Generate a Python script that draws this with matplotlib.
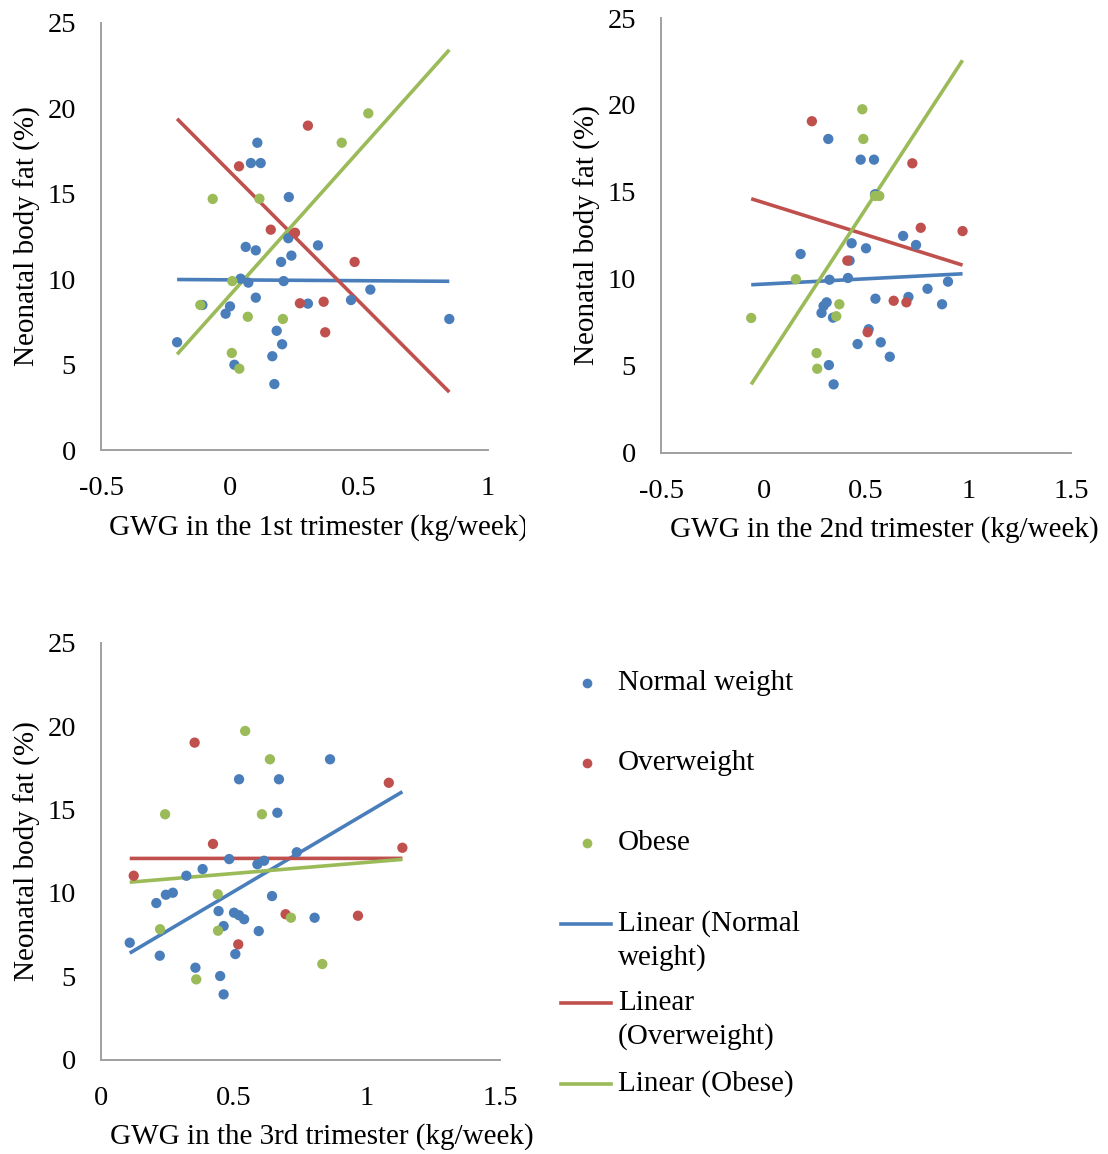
import numpy as np
import matplotlib
matplotlib.use("Agg")
import matplotlib.pyplot as plt
from matplotlib.lines import Line2D
from matplotlib.transforms import Bbox, TransformedBbox

plt.rcParams["font.family"] = ["Liberation Serif", "DejaVu Serif"]
plt.rcParams["font.size"] = 21

C_NORM = "#4a7ebb"
C_OVER = "#c0504d"
C_OBES = "#9bbb59"
SPINE = "#a0a0a0"

# ---- 1st trimester ----
t1_norm_x = [0.106, 0.081, 0.119, 0.228, 0.226, 0.061, 0.100, 0.341, 0.238, 0.198,
             0.041, 0.071, 0.208, 0.544, 0.100, -0.107, 0.000, -0.017, 0.302, 0.469,
             0.850, -0.205, 0.181, 0.202, 0.164, 0.017, 0.172]
t1_norm_y = [17.99, 16.80, 16.80, 14.81, 12.40, 11.89, 11.69, 11.98, 11.38, 11.01,
             10.03, 9.80, 9.89, 9.39, 8.92, 8.49, 8.41, 7.98, 8.57, 8.78,
             7.67, 6.31, 6.98, 6.19, 5.49, 4.99, 3.86]
t1_over_x = [0.302, 0.035, 0.158, 0.252, 0.483, 0.271, 0.363, 0.369]
t1_over_y = [18.99, 16.61, 12.90, 12.72, 11.01, 8.59, 8.68, 6.89]
t1_obes_x = [0.536, 0.433, -0.067, 0.114, 0.009, -0.115, 0.069, 0.205, 0.007, 0.036]
t1_obes_y = [19.71, 17.99, 14.70, 14.71, 9.89, 8.49, 7.80, 7.67, 5.68, 4.76]

# ---- 2nd trimester ----
t2_norm_x = [0.316, 0.474, 0.539, 0.544, 0.681, 0.744, 0.430, 0.500, 0.181, 0.420,
             0.322, 0.412, 0.900, 0.800, 0.546, 0.707, 0.871, 0.308, 0.293, 0.283,
             0.339, 0.513, 0.459, 0.572, 0.616, 0.319, 0.342]
t2_norm_y = [18.04, 16.85, 16.85, 14.86, 12.46, 11.94, 12.04, 11.75, 11.42, 11.04,
             9.94, 10.04, 9.83, 9.42, 8.85, 8.95, 8.53, 8.64, 8.43, 8.03,
             7.76, 7.09, 6.24, 6.34, 5.51, 5.03, 3.92]
t2_over_x = [0.236, 0.726, 0.767, 0.971, 0.409, 0.635, 0.697, 0.508]
t2_over_y = [19.06, 16.64, 12.93, 12.74, 11.04, 8.73, 8.64, 6.92]
t2_obes_x = [0.482, 0.487, 0.544, 0.565, 0.158, 0.370, 0.355, -0.060, 0.259, 0.262]
t2_obes_y = [19.75, 18.04, 14.76, 14.76, 9.97, 8.53, 7.84, 7.74, 5.72, 4.82]

# ---- 3rd trimester ----
t3_norm_x = [0.861, 0.519, 0.669, 0.663, 0.736, 0.482, 0.588, 0.613, 0.382, 0.321,
             0.244, 0.270, 0.208, 0.643, 0.442, 0.500, 0.519, 0.538, 0.803, 0.461,
             0.593, 0.108, 0.221, 0.505, 0.355, 0.448, 0.461]
t3_norm_y = [18.02, 16.82, 16.82, 14.81, 12.44, 12.03, 11.72, 11.93, 11.43, 11.03,
             9.89, 10.01, 9.39, 9.81, 8.91, 8.81, 8.66, 8.42, 8.51, 8.01,
             7.71, 7.01, 6.23, 6.33, 5.51, 5.01, 3.91]
t3_over_x = [0.352, 1.082, 0.421, 1.133, 0.123, 0.694, 0.966, 0.516]
t3_over_y = [19.02, 16.61, 12.94, 12.71, 11.03, 8.72, 8.63, 6.91]
t3_obes_x = [0.542, 0.635, 0.241, 0.605, 0.439, 0.714, 0.222, 0.440, 0.832, 0.358]
t3_obes_y = [19.72, 18.02, 14.72, 14.72, 9.92, 8.51, 7.82, 7.73, 5.73, 4.81]

groups = ["Normal weight", "Overweight", "Obese"]
colors = [C_NORM, C_OVER, C_OBES]
y_ticks = [0, 5, 10, 15, 20, 25]

W, H = 1108, 1154
fig = plt.figure(figsize=(W / 100, H / 100), dpi=100)


def px_ax(l, t, r, b):
    return [l / W, 1 - b / H, (r - l) / W, (b - t) / H]


panels = [
    dict(rect=px_ax(101, 23, 488, 450), xlim=(-0.5, 1.0), xt=[-0.5, 0, 0.5, 1],
         xl="GWG in the 1st trimester (kg/week)", xlpos=0.562,
         data=[(t1_norm_x, t1_norm_y), (t1_over_x, t1_over_y), (t1_obes_x, t1_obes_y)]),
    dict(rect=px_ax(661, 18, 1071, 452.5), xlim=(-0.5, 1.5), xt=[-0.5, 0, 0.5, 1, 1.5],
         xl="GWG in the 2nd trimester (kg/week)", xlpos=0.545,
         data=[(t2_norm_x, t2_norm_y), (t2_over_x, t2_over_y), (t2_obes_x, t2_obes_y)]),
    dict(rect=px_ax(101, 643, 500, 1059.5), xlim=(0, 1.5), xt=[0, 0.5, 1, 1.5],
         xl="GWG in the 3rd trimester (kg/week)", xlpos=0.554,
         data=[(t3_norm_x, t3_norm_y), (t3_over_x, t3_over_y), (t3_obes_x, t3_obes_y)]),
]

axes = []
for p in panels:
    ax = fig.add_axes(p["rect"])
    allx = np.concatenate([np.asarray(d[0]) for d in p["data"]])
    x0, x1 = allx.min(), allx.max()
    for (xs, ys), c in zip(p["data"], colors):
        ax.scatter(xs, ys, s=55, color=c, edgecolors="none", zorder=3)
    # least-squares trend lines, like the spreadsheet's "Linear" trendline
    for (xs, ys), c in zip(p["data"], colors):
        k, b0 = np.polyfit(xs, ys, 1)
        ax.plot([x0, x1], [k * x0 + b0, k * x1 + b0], color=c, lw=2.6,
                solid_capstyle="butt", zorder=2)
    ax.set_xlim(*p["xlim"])
    ax.set_ylim(0, 25)
    ax.set_xticks(p["xt"])
    ax.set_xticklabels([f"{v:g}" for v in p["xt"]])
    ax.set_yticks(y_ticks)
    for s in ["top", "right"]:
        ax.spines[s].set_visible(False)
    for s in ["left", "bottom"]:
        ax.spines[s].set_color(SPINE)
        ax.spines[s].set_linewidth(1.4)
    ax.tick_params(length=0, labelsize=20.5)
    ax.tick_params(axis="x", pad=19)
    ax.tick_params(axis="y", pad=18)
    ax.set_ylabel("Neonatal body fat (%)", labelpad=5)
    ax.set_xlabel(p["xl"], labelpad=9)
    ax.xaxis.label.set_x(p["xlpos"])
    axes.append(ax)

# first x label is cut off by the chart area in the original
lbl = axes[0].xaxis.label
lbl.set_clip_on(True)
lbl.set_clip_box(TransformedBbox(Bbox([[0, 0], [525 / W, 1]]), fig.transFigure))


# legend drawn by hand (uneven entry spacing in the original)
def fx(x):
    return x / W


def fy(y):
    return 1 - y / H


for name, c, y in zip(groups, colors, [683, 763, 843]):
    fig.add_artist(Line2D([fx(587)], [fy(y)], marker="o", ms=7, color=c, mec="none",
                          ls="none", transform=fig.transFigure))
    fig.text(fx(618), fy(y), name, va="center", ha="left")

line_labels = ["Linear (Normal\nweight)", "Linear\n(Overweight)", "Linear (Obese)"]
line_y = [924, 1003, 1084]
text_y = [940.5, 1020, 1084]
for lab, c, y, ty in zip(line_labels, colors, line_y, text_y):
    fig.add_artist(Line2D([fx(561), fx(611)], [fy(y), fy(y)], color=c, lw=2.6,
                          transform=fig.transFigure))
    fig.text(fx(618), fy(ty), lab, va="center", ha="left", linespacing=1.3)

fig.savefig("out.png", dpi=100)
